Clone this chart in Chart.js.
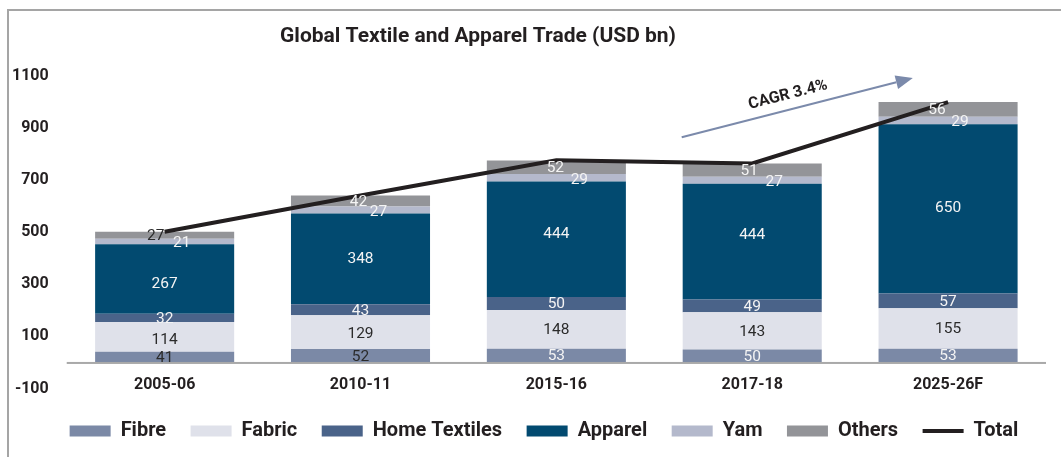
<!DOCTYPE html>
<html><head><meta charset="utf-8">
<script src="https://cdn.jsdelivr.net/npm/chart.js@4.4.1/dist/chart.umd.min.js"></script>
<style>
html,body{margin:0;padding:0;background:#fff;overflow:hidden}
#wrap{position:relative;width:1061px;height:457px;overflow:hidden}
#frame{position:absolute;left:7px;top:9px;width:1100px;height:500px;border-left:2px solid #a5a5a5;border-top:2px solid #a5a5a5}
canvas{position:absolute;left:0;top:0}
</style></head><body>
<div id="wrap"><div id="frame"></div><canvas id="c" width="1061" height="457"></canvas></div>
<script>
// ---- data ----
const categories = ['2005-06', '2010-11', '2015-16', '2017-18', '2025-26F'];
const fibre = [41, 52, 53, 50, 53];
const fabric = [114, 129, 148, 143, 155];
const homeTextiles = [32, 43, 50, 49, 57];
const apparel = [267, 348, 444, 444, 650];
const yarn = [21, 27, 29, 27, 29];
const others = [27, 42, 52, 51, 56];
const total = [502, 641, 776, 764, 1000];
const yTickValues = [-100, 100, 300, 500, 700, 900, 1100];
const chartTitle = 'Global Textile and Apparel Trade (USD bn)';
const cagrLabel = 'CAGR 3.4%';
// arrow annotation endpoints in data space (category index, value)
const cagrFrom = [2.64, 865];
const cagrTo = [3.82, 1092];

// ---- styles ----
const DARK = '#2b2b2b', LIGHT = '#f4f4f4';
const FONT = 'Roboto, "Noto Sans", sans-serif';

function bar(label, data, color, lbl) {
  return { type: 'bar', label, data, backgroundColor: color, borderWidth: 0, order: 1,
    barPercentage: 0.71, categoryPercentage: 1.0, labelStyle: lbl };
}

const datasets = [
  bar('Fibre', fibre, '#7b89a6', { colors: [DARK, DARK, LIGHT, LIGHT, LIGHT], dx: [0,0,0,0,0], dy: [1,1,1,1,1] }),
  bar('Fabric', fabric, '#dfe1ea', { colors: [DARK, DARK, DARK, DARK, DARK], dx: [0,0,0,0,0], dy: [3,2,1,1,1] }),
  bar('Home Textiles', homeTextiles, '#4a6389', { colors: [LIGHT, LIGHT, LIGHT, LIGHT, LIGHT], dx: [0,0,0,0,0], dy: [1,1,1,1,1] }),
  bar('Apparel', apparel, '#024a70', { colors: [LIGHT, LIGHT, LIGHT, LIGHT, LIGHT], dx: [0,0,0,0,0], dy: [5,0,-5,-7,-1] }),
  bar('Yam', yarn, '#b4b9cc', { colors: [LIGHT, LIGHT, LIGHT, LIGHT, LIGHT], dx: [17,18,23,22,12], dy: [2,2,2,2,2] }),
  bar('Others', others, '#939498', { colors: [DARK, LIGHT, LIGHT, LIGHT, LIGHT], dx: [-9,-2,-1,-3,-11], dy: [1,1,1,1,1] }),
  { type: 'line', label: 'Total', data: total, borderColor: '#231f20', backgroundColor: '#231f20',
    borderWidth: 4, pointRadius: 0, tension: 0, order: 0, stack: 'tot', fill: false }
];

const segLabels = {
  id: 'segLabels',
  afterLayout(chart) {
    // nudge the legend row to the right to match the reference
    chart.legend.left += 20;
    chart.legend.right += 20;
  },
  afterDatasetsDraw(chart) {
    const ctx = chart.ctx;
    const xs = chart.scales.x, y = chart.scales.y;
    const y0 = y.getPixelForValue(0);
    // zero baseline
    ctx.save();
    ctx.fillStyle = '#a9a9a9';
    ctx.fillRect(chart.chartArea.left, y0 - 0.5, chart.chartArea.right - chart.chartArea.left, 2);
    ctx.restore();
    chart.data.datasets.forEach((ds, i) => {
      if (ds.type === 'line') return;
      const meta = chart.getDatasetMeta(i);
      const st = ds.labelStyle;
      meta.data.forEach((el, j) => {
        ctx.save();
        ctx.font = '15.5px ' + FONT;
        ctx.fillStyle = st.colors[j];
        ctx.textAlign = 'center';
        ctx.textBaseline = 'middle';
        ctx.fillText(String(ds.data[j]), el.x + st.dx[j], (el.y + el.base) / 2 + st.dy[j]);
        ctx.restore();
      });
    });
    // category labels (drawn on the x scale positions, overlapping the plot bottom like the reference)
    ctx.save();
    ctx.font = 'bold 16px ' + FONT;
    ctx.fillStyle = '#231f20';
    ctx.textAlign = 'center';
    ctx.textBaseline = 'middle';
    categories.forEach((c, i) => {
      ctx.fillText(c, xs.getPixelForValue(i), y.getPixelForValue(-100) - 4);
    });
    ctx.restore();
  },
  afterDraw(chart) {
    const ctx = chart.ctx;
    // title
    ctx.save();
    ctx.font = 'bold 21px ' + FONT;
    ctx.fillStyle = '#231f20';
    ctx.textAlign = 'center';
    ctx.textBaseline = 'middle';
    ctx.fillText(chartTitle, 478, 37);
    ctx.restore();
    // CAGR arrow
    const xs = chart.scales.x, ys = chart.scales.y;
    const x1 = xs.getPixelForValue(cagrFrom[0]), y1 = ys.getPixelForValue(cagrFrom[1]);
    const x2 = xs.getPixelForValue(cagrTo[0]), y2 = ys.getPixelForValue(cagrTo[1]);
    const ang = Math.atan2(y2 - y1, x2 - x1);
    const headL = 17, headW = 7;
    ctx.save();
    ctx.strokeStyle = '#7b8aab';
    ctx.fillStyle = '#7b8aab';
    ctx.lineWidth = 2;
    ctx.beginPath();
    ctx.moveTo(x1, y1);
    ctx.lineTo(x2 - Math.cos(ang) * headL, y2 - Math.sin(ang) * headL);
    ctx.stroke();
    ctx.beginPath();
    ctx.moveTo(x2, y2);
    ctx.lineTo(x2 - Math.cos(ang) * headL - Math.sin(ang) * headW, y2 - Math.sin(ang) * headL + Math.cos(ang) * headW);
    ctx.lineTo(x2 - Math.cos(ang) * headL + Math.sin(ang) * headW, y2 - Math.sin(ang) * headL - Math.cos(ang) * headW);
    ctx.closePath();
    ctx.fill();
    ctx.restore();
    // CAGR label
    const mx = (x1 + x2) / 2 - 6, my = (y1 + y2) / 2;
    const off = 13;
    const tx = mx + Math.sin(ang) * off, ty = my - Math.cos(ang) * off;
    ctx.save();
    ctx.translate(tx, ty);
    ctx.rotate(ang);
    ctx.font = 'bold 16px ' + FONT;
    ctx.fillStyle = '#231f20';
    ctx.textAlign = 'center';
    ctx.textBaseline = 'middle';
    ctx.fillText(cagrLabel, 0, 0);
    ctx.restore();
  }
};

new Chart(document.getElementById('c'), {
  data: { labels: categories, datasets },
  plugins: [segLabels],
  options: {
    responsive: false,
    devicePixelRatio: 1,
    animation: false,
    layout: { padding: { left: 2, right: 15, top: 76, bottom: 6 } },
    plugins: {
      title: { display: false },
      tooltip: { enabled: false },
      legend: {
        position: 'bottom',
        labels: {
          usePointStyle: true,
          pointStyleWidth: 41,
          boxHeight: 11,
          padding: 24.5,
          color: '#231f20',
          font: { family: FONT, size: 20, weight: 'bold' },
          sort: (a, b) => a.datasetIndex - b.datasetIndex,
          generateLabels(chart) {
            const items = Chart.defaults.plugins.legend.labels.generateLabels(chart);
            items.forEach(it => {
              const ds = chart.data.datasets[it.datasetIndex];
              if (ds.type === 'line') {
                it.pointStyle = 'line';
                it.strokeStyle = ds.borderColor;
                it.lineWidth = 4;
              } else {
                it.pointStyle = 'rect';
                it.fillStyle = ds.backgroundColor;
                it.lineWidth = 0;
              }
            });
            return items;
          }
        }
      }
    },
    scales: {
      x: {
        stacked: true,
        grid: { display: false },
        border: { display: false },
        ticks: { display: false },
        afterFit: s => { s.height = 8; }
      },
      y: {
        stacked: true,
        min: -100, max: 1100,
        grid: { display: false },
        border: { display: false },
        afterBuildTicks: s => { s.ticks = yTickValues.map(v => ({ value: v })); },
        ticks: { color: '#231f20', font: { family: FONT, size: 16, weight: 'bold' }, padding: 10,
          callback: v => String(v) }
      }
    }
  }
});
</script>
</body></html>
